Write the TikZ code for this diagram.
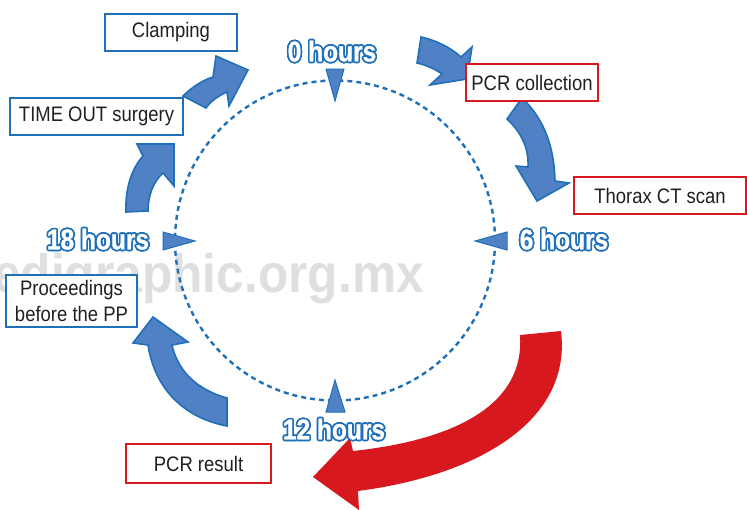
\documentclass[tikz,border=0pt]{standalone}
\usepackage{fontspec}
\usepackage{contour}
\newfontfamily\boxfont{Liberation Sans}[FakeStretch=0.88]
\newfontfamily\hrfont{Liberation Sans Bold}[FakeStretch=0.86, FakeBold=1]
\newfontfamily\wmfont{Liberation Sans}[FakeStretch=0.92]
\contourlength{1.7pt}
\definecolor{ablue}{HTML}{4F81C4}
\definecolor{lblue}{HTML}{1F70B8}
\definecolor{bred}{HTML}{D7191F}
\definecolor{wm}{HTML}{DEDFE1}
\definecolor{txt}{HTML}{231F20}
\tikzset{
  box/.style={draw, line width=2pt, fill=white, text=txt, inner sep=0pt, align=center,
    font=\boxfont\fontsize{21}{25.5}\selectfont, minimum height=37pt},
  bluebox/.style={box, draw=lblue},
  redbox/.style={box, draw=bred},
  hrs/.style={inner sep=0pt, text=white, font=\hrfont\fontsize{28.5}{30}\selectfont},
  barrow/.style={fill=ablue, draw=lblue, line width=1.6pt, line join=miter},
  marker/.style={fill=ablue, draw=lblue, line width=1pt, line join=miter},
  ring/.style={draw=lblue, line width=2.4pt, dash pattern=on 5pt off 4pt}
}
\begin{document}
\begin{tikzpicture}[x=1pt,y=-1pt]
\useasboundingbox (0,0) rectangle (747,509);
\clip (0,0) rectangle (747,509);
\fill[white] (0,0) rectangle (747,509);
% watermark
\node[anchor=base east, inner sep=0pt, text=wm, font=\wmfont\bfseries\fontsize{54}{56}\selectfont] (wmark) at (424,292) {edigraphic.org.mx};
% dashed clock ring
\draw[ring] (335,240.5) circle[radius=160pt];
% hour markers
\path[marker] (326,69) -- (344,69) -- (335,101) -- cycle;
\path[marker] (326,412) -- (345,412) -- (335,380) -- cycle;
\path[marker] (163,232) -- (163,250) -- (195,241) -- cycle;
\path[marker] (507,232) -- (507,250) -- (475,241) -- cycle;
% blue curved arrows
\path[barrow] (183,96) .. controls (192,87) and (203,80) .. (213,77) -- (216,56) -- (248,70) -- (229,106) -- (227,92) .. controls (218,96) and (211,101) .. (206,108) -- cycle;
\path[barrow] (126,212) .. controls (125,188) and (132,168) .. (143,156) -- (137,144) -- (174,144) -- (174,186) -- (163,173) .. controls (153,182) and (148,196) .. (148,211) -- cycle;
\path[barrow] (421,37) .. controls (435,40) and (450,47) .. (461,57) -- (472,47) -- (467,79) -- (430,85) -- (442,74) .. controls (435,69) and (426,65) .. (417,63) -- cycle;
\path[barrow] (522,98) .. controls (540,115) and (554,140) .. (555,181) -- (569,183) -- (537,201) -- (516,166) -- (528,167) .. controls (529,148) and (521,132) .. (507,119) -- cycle;
\path[barrow] (227,426) .. controls (185,418) and (155,390) .. (148,345) -- (133,343) -- (153,317) -- (188,342) -- (172,345) .. controls (178,372) and (198,390) .. (227,398) -- cycle;
% red arrow
\fill[bred] (561,331) .. controls (572,420) and (480,475) .. (358,491) -- (359,510) -- (313,477) -- (350,438) -- (353,451) .. controls (455,440) and (525,405) .. (520,335) -- cycle;
% boxes
\node[bluebox, minimum width=132pt] (clamp) at (171,32.5) {Clamping};
\node[bluebox, minimum width=173pt] (timeout) at (96.5,116.5) {TIME OUT surgery};
\node[redbox, minimum width=132pt] (pcrc) at (532,82.5) {PCR collection};
\node[redbox, minimum width=172pt] (thorax) at (660,195.5) {Thorax CT scan};
\node[bluebox, minimum width=131pt, minimum height=52pt] (proc) at (71.5,301) {Proceedings\\before the PP};
\node[redbox, minimum width=145pt, minimum height=39pt] (pcrr) at (198.5,463.5) {PCR result};
% hour labels
\node[hrs] (h0) at (332,52) {\contour{lblue}{0 hours}};
\node[hrs] (h6) at (564,240) {\contour{lblue}{6 hours}};
\node[hrs] (h12) at (334,430) {\contour{lblue}{12 hours}};
\node[hrs] (h18) at (98,240) {\contour{lblue}{18 hours}};
\end{tikzpicture}
\end{document}
